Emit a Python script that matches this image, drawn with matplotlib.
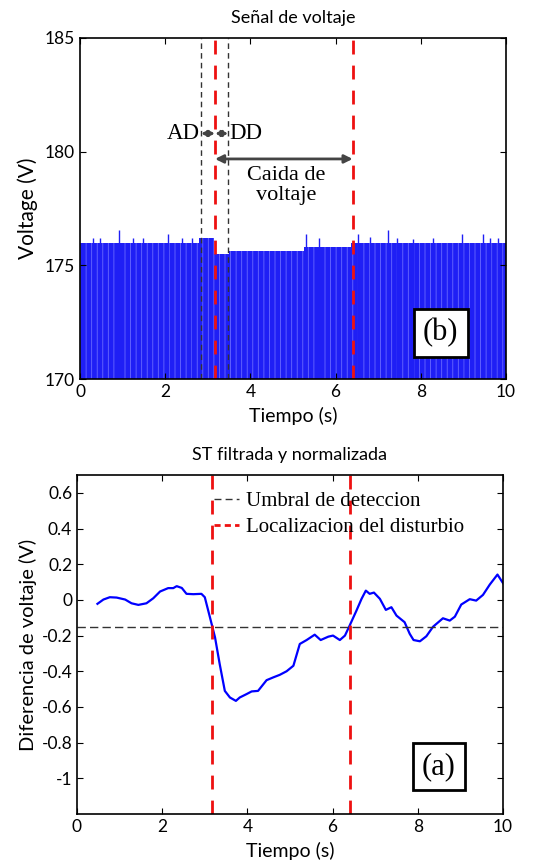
import numpy as np
import matplotlib.pyplot as plt
from matplotlib.lines import Line2D

# señal de voltaje: envolvente de picos
env_t = [0.0, 2.8, 2.8, 3.15, 3.15, 3.5, 3.5, 5.25, 5.25, 6.35, 6.35, 10.0]
env_v = [176.0, 176.0, 176.2, 176.2, 175.5, 175.5, 175.65, 175.65, 175.8, 175.8, 176.0, 176.0]
spike_t = [0.31, 0.47, 0.92, 1.25, 1.49, 2.07, 2.39, 2.62, 5.3, 5.6, 6.53, 6.81,
           7.24, 7.43, 7.82, 8.29, 8.96, 9.47, 9.62, 9.82]
spike_v = [176.22, 176.2, 176.57, 176.2, 176.2, 176.4, 176.22, 176.2, 176.4, 176.2, 176.4, 176.25,
           176.57, 176.2, 176.15, 176.2, 176.4, 176.4, 176.22, 176.22]

# ST filtrada y normalizada
st_t = [0.48, 0.62, 0.77, 0.93, 1.13, 1.28, 1.44, 1.63, 1.79, 1.95, 2.14, 2.26, 2.34, 2.46,
        2.57, 2.73, 2.92, 3.0, 3.12, 3.24, 3.35, 3.47, 3.59, 3.73, 3.82, 3.98, 4.1, 4.25,
        4.45, 4.61, 4.76, 4.92, 5.08, 5.23, 5.39, 5.58, 5.72, 5.9, 6.01, 6.17, 6.29, 6.40,
        6.56, 6.68, 6.78, 6.87, 6.97, 7.11, 7.25, 7.38, 7.5, 7.69, 7.81, 7.9, 8.05, 8.2,
        8.36, 8.59, 8.75, 8.87, 9.02, 9.22, 9.37, 9.53, 9.69, 9.87, 10.0]
st_v = [-0.022, 0.002, 0.015, 0.013, 0.002, -0.019, -0.028, -0.019, 0.009, 0.047, 0.066,
        0.066, 0.077, 0.067, 0.034, 0.032, 0.034, 0.015, -0.097, -0.21, -0.36, -0.51, -0.547,
        -0.566, -0.547, -0.528, -0.513, -0.51, -0.45, -0.434, -0.42, -0.40, -0.369, -0.247,
        -0.225, -0.195, -0.225, -0.206, -0.2, -0.225, -0.2, -0.144, -0.06, 0.006, 0.052,
        0.034, 0.041, 0.006, -0.056, -0.041, -0.088, -0.125, -0.19, -0.225, -0.232, -0.204,
        -0.15, -0.103, -0.116, -0.094, -0.026, 0.004, -0.004, 0.028, 0.086, 0.142, 0.094]

umbral = -0.15
t_ini, t_fin = 3.17, 6.40
t_ad, t_dd = 2.84, 3.48

sans = ['Lato', 'DejaVu Sans']
serif = 'Liberation Serif'

plt.rcParams['hatch.linewidth'] = 0.6
fig = plt.figure(figsize=(5.41, 8.66), dpi=100)

# ---- grafica superior ----
ax1 = fig.add_axes([80/541, 1-379/866, 426/541, 341/866])
ax1.fill_between(env_t, 170, env_v, facecolor='#1f1ff5', edgecolor='#6a6aff',
                 hatch='|||', lw=0)
ax1.vlines(spike_t, 170, spike_v, color='#1f1ff5', lw=1)
ax1.axvline(t_ad, color='#333333', ls=(0, (4, 3)), lw=1)
ax1.axvline(t_dd, color='#333333', ls=(0, (4, 3)), lw=1)
ax1.axvline(t_ini, color='#ee1111', ls=(0, (5, 4)), lw=2)
ax1.axvline(t_fin, color='#ee1111', ls=(0, (5, 4)), lw=2)

arr = dict(arrowstyle='<|-|>', color='#444444', lw=2, mutation_scale=8, shrinkA=0, shrinkB=0)
ax1.annotate('', xy=(t_ad, 180.8), xytext=(t_ini, 180.8), arrowprops=arr)
ax1.annotate('', xy=(t_ini, 180.8), xytext=(t_dd, 180.8), arrowprops=arr)
arr2 = dict(arr, mutation_scale=12)
ax1.annotate('', xy=(t_ini, 179.68), xytext=(t_fin, 179.68), arrowprops=arr2)
ax1.text(t_ad - 0.02, 180.8, 'AD', family=serif, fontsize=16.5, ha='right', va='center')
ax1.text(t_dd + 0.02, 180.8, 'DD', family=serif, fontsize=16.5, ha='left', va='center')
ax1.text(4.85, 178.5, 'Caida de\nvoltaje', family=serif, fontsize=16, ha='center',
         va='center', linespacing=1.05)
ax1.text(0.847, 0.135, '(b)', transform=ax1.transAxes, family=serif, fontsize=22,
         ha='center', va='center',
         bbox=dict(boxstyle='square,pad=0.3', fc='white', ec='black', lw=2))

ax1.set_xlim(0, 10)
ax1.set_ylim(170, 185)
ax1.set_xticks([0, 2, 4, 6, 8, 10])
ax1.set_yticks([170, 175, 180, 185])
ax1.set_title('Señal de voltaje', family=sans, fontsize=13, pad=11)
ax1.set_xlabel('Tiempo (s)', family=sans, fontsize=14, labelpad=5)
ax1.set_ylabel('Voltage (V)', family=sans, fontsize=15, labelpad=5)

# ---- grafica inferior ----
ax2 = fig.add_axes([77/541, 1-814/866, 426/541, 339/866])
ax2.plot(st_t, st_v, color='#0000ff', lw=1.6)
ax2.axhline(umbral, color='#333333', ls=(0, (6, 3)), lw=1)
ax2.axvline(t_ini, color='#ee1111', ls=(0, (5, 4)), lw=2)
ax2.axvline(t_fin, color='#ee1111', ls=(0, (5, 4)), lw=2)

# muestras de la leyenda con trazos cortos como en el original
h_umbral = Line2D([], [], color='#333333', ls=(0, (5, 3)), lw=1)
h_loc = Line2D([], [], color='#ee1111', ls=(0, (2.2, 1.5)), lw=2)
ax2.legend([h_umbral, h_loc], ['Umbral de deteccion', 'Localizacion del disturbio'],
           loc='upper left', bbox_to_anchor=(0.303, 0.975), frameon=False,
           prop={'family': serif, 'size': 15}, handlelength=1.2, handletextpad=0.3,
           labelspacing=0.3, borderaxespad=0)
ax2.text(0.849, 0.14, '(a)', transform=ax2.transAxes, family=serif, fontsize=22,
         ha='center', va='center',
         bbox=dict(boxstyle='square,pad=0.3', fc='white', ec='black', lw=2))

ax2.set_xlim(0, 10)
ax2.set_ylim(-1.2, 0.7)
ax2.set_xticks([0, 2, 4, 6, 8, 10])
ax2.set_yticks([-1, -0.8, -0.6, -0.4, -0.2, 0, 0.2, 0.4, 0.6])
ax2.set_yticklabels(['-1', '-0.8', '-0.6', '-0.4', '-0.2', '0', '0.2', '0.4', '0.6'])
ax2.set_title('ST filtrada y normalizada', family=sans, fontsize=13, pad=11)
ax2.set_xlabel('Tiempo (s)', family=sans, fontsize=14, labelpad=5)
ax2.set_ylabel('Diferencia de voltaje (V)', family=sans, fontsize=14.5, labelpad=3)

for ax in (ax1, ax2):
    ax.tick_params(direction='in', top=True, right=True, length=4, labelsize=12.5)
    for lab in ax.get_xticklabels() + ax.get_yticklabels():
        lab.set_family(sans)
    for s in ax.spines.values():
        s.set_linewidth(1.2)

fig.savefig('out.png', dpi=100)
